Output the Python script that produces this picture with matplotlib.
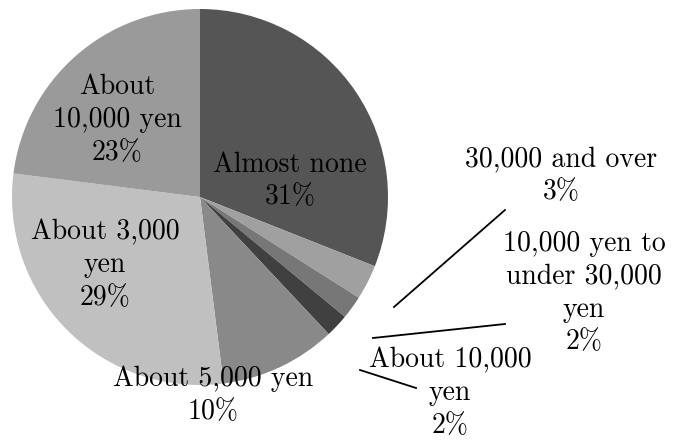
import matplotlib.pyplot as plt

# monthly spending categories (clockwise from 12 o'clock)
categories = ["Almost none", "30,000 and over", "10,000 yen to\nunder 30,000\nyen",
              "About 10,000\nyen", "About 5,000 yen", "About 3,000\nyen", "About\n10,000 yen"]
shares = [31, 3, 2, 2, 10, 29, 23]
colors = ["#555555", "#a0a0a0", "#777777", "#404040", "#898989", "#c0c0c0", "#9a9a9a"]

# label centers in pixels (x, y from top) and leader lines (start, end)
label_px = [(290, 181), (561, 176), (584, 293), (450, 393), (213, 395), (105, 265), (117, 120)]
leader_px = [None, ((394, 307), (505, 210)), ((373, 338), (505, 324)),
             ((360, 370), (416, 388)), None, None, None]

W, H = 674, 440
cx, cy, R = 200, 197, 188


def px2data(p):
    return ((p[0] - cx) / R, (cy - p[1]) / R)


fig = plt.figure(figsize=(W / 100, H / 100), dpi=100)
ax = fig.add_axes([0, 0, 1, 1])
ax.pie(shares, colors=colors, startangle=90, counterclock=False,
       wedgeprops=dict(linewidth=0))
ax.set_xlim(-cx / R, (W - cx) / R)
ax.set_ylim(-(H - cy) / R, cy / R)
ax.set_aspect("equal")
ax.axis("off")

for i, (cat, val) in enumerate(zip(categories, shares)):
    x, y = px2data(label_px[i])
    ax.text(x, y, f"{cat}\n{val}%", ha="center", va="center", fontsize=20,
            family="cmr10", linespacing=1.32)
    if leader_px[i] is not None:
        (sx, sy), (ex, ey) = px2data(leader_px[i][0]), px2data(leader_px[i][1])
        ax.plot([sx, ex], [sy, ey], color="black", lw=1.3)

fig.savefig("out.png", dpi=100)
